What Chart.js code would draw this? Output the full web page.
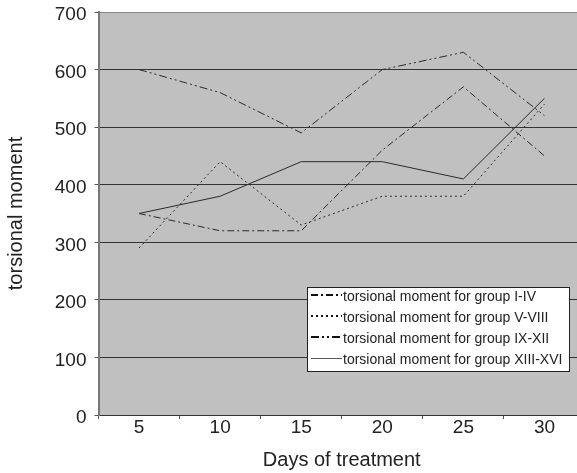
<!DOCTYPE html>
<html>
<head>
<meta charset="utf-8">
<script src="https://cdn.jsdelivr.net/npm/chart.js@4"></script>
<style>
  html, body { margin: 0; padding: 0; background: #fff; overflow: hidden; }
  #wrap { width: 600px; height: 473px; }
</style>
</head>
<body>
<div id="wrap"><canvas id="torsionChart" width="600" height="473"></canvas></div>
<script>
// values
const days = ['5', '10', '15', '20', '25', '30'];
const groupI_IV = [350, 320, 320, 460, 570, 450];
const groupV_VIII = [290, 440, 330, 380, 380, 540];
const groupIX_XII = [600, 560, 490, 600, 630, 520];
const groupXIII_XVI = [350, 380, 440, 440, 410, 550];
const seriesNames = [
    'torsional moment for group I-IV',
    'torsional moment for group V-VIII',
    'torsional moment for group IX-XII',
    'torsional moment for group XIII-XVI'
];
const yMin = 0;
const yMax = 700;
const yStep = 100;

Chart.defaults.font.family = '"Liberation Sans", Arial, sans-serif';
Chart.defaults.color = '#222';

// grey fill behind the plot, like the old spreadsheet charts
const plotBackground = {
    id: 'plotBackground',
    beforeDraw(chart) {
        const { ctx, chartArea: a } = chart;
        ctx.save();
        ctx.fillStyle = '#c0c0c0';
        ctx.fillRect(a.left, a.top, a.right - a.left, a.bottom - a.top);
        ctx.restore();
    }
};

// boxed legend sitting inside the plot, bottom right
const boxLegend = {
    id: 'boxLegend',
    afterDatasetsDraw(chart) {
        const { ctx, chartArea: a } = chart;
        const w = 262, h = 84;
        const x = a.right - 16 - w;
        const y = a.bottom - 44 - h;
        ctx.save();
        ctx.fillStyle = '#fff';
        ctx.fillRect(x, y, w, h);
        ctx.strokeStyle = '#222';
        ctx.lineWidth = 1;
        ctx.strokeRect(x + 0.5, y + 0.5, w, h);
        ctx.font = '14px "Liberation Sans", Arial, sans-serif';
        ctx.textBaseline = 'middle';
        chart.data.datasets.forEach((ds, i) => {
            const rowY = y + 9.7 + i * 21.1;
            const dash = ds.borderDash || [];
            const lineY = Math.round(rowY - 2) + (dash.length ? 0 : 0.5);
            ctx.beginPath();
            ctx.setLineDash(dash);
            ctx.lineWidth = dash.length ? 2 : 1;
            ctx.strokeStyle = dash.length ? '#111' : '#555';
            ctx.moveTo(x + 4, lineY);
            ctx.lineTo(x + 35, lineY);
            ctx.stroke();
            ctx.setLineDash([]);
            ctx.fillStyle = '#222';
            ctx.fillText(ds.label, x + 36, rowY);
        });
        ctx.restore();
    }
};

function makeSeries(label, data, dash) {
    return {
        label: label,
        data: data,
        borderColor: '#2a2a2a',
        borderWidth: 1,
        borderDash: dash,
        pointRadius: 0,
        fill: false,
        tension: 0
    };
}

const ctx = document.getElementById('torsionChart').getContext('2d');
new Chart(ctx, {
    type: 'line',
    data: {
        labels: days,
        datasets: [
            makeSeries(seriesNames[0], groupI_IV, [7, 3, 2, 3]),
            makeSeries(seriesNames[1], groupV_VIII, [2, 3]),
            makeSeries(seriesNames[2], groupIX_XII, [8, 3, 2, 3, 2, 3]),
            makeSeries(seriesNames[3], groupXIII_XVI, [])
        ]
    },
    options: {
        responsive: false,
        animation: false,
        layout: { padding: { left: 4, top: 12, right: 15, bottom: 0 } },
        plugins: {
            legend: { display: false },
            tooltip: { enabled: false }
        },
        scales: {
            x: {
                offset: true,
                grid: {
                    offset: true,
                    drawOnChartArea: false,
                    tickLength: 4,
                    tickColor: '#555'
                },
                border: { color: '#333', width: 1 },
                ticks: {
                    font: { size: 19, lineHeight: 1 },
                    padding: -1,
                    maxRotation: 0,
                    color: '#222'
                },
                title: {
                    display: true,
                    text: 'Days of treatment',
                    font: { size: 20 },
                    padding: { top: 0, bottom: 1 },
                    color: '#222'
                },
                afterFit(scale) { scale.height = 58; }
            },
            y: {
                min: yMin,
                max: yMax,
                grid: {
                    color: (c) => (c.tick && c.tick.value === yMax ? '#8a8a8a' : '#333'),
                    tickColor: '#555',
                    tickLength: 4,
                    lineWidth: 1
                },
                border: { color: '#777', width: 2 },
                ticks: {
                    stepSize: yStep,
                    font: { size: 19, lineHeight: 1 },
                    padding: 8,
                    labelOffset: 3,
                    color: '#222'
                },
                title: {
                    display: true,
                    text: 'torsional moment',
                    font: { size: 20 },
                    padding: { top: 0, bottom: 0 },
                    color: '#222'
                },
                afterFit(scale) {
                    scale.width = 94.5;
                    // let the layout padding decide the top edge, not the label padding
                    scale.paddingTop = 0;
                    scale.paddingBottom = 0;
                }
            }
        }
    },
    plugins: [plotBackground, boxLegend]
});
</script>
</body>
</html>
